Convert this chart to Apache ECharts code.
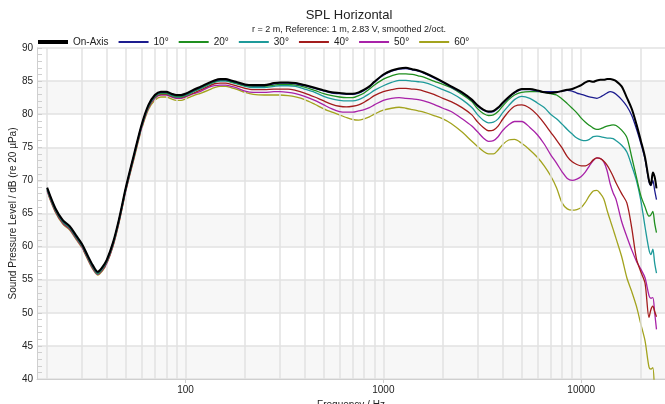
<!DOCTYPE html>
<html>
<head>
<meta charset="utf-8">
<script src="https://cdn.jsdelivr.net/npm/echarts@6/dist/echarts.min.js"></script>
<style>
html,body{margin:0;padding:0;background:#fff;}
#chart{width:665px;height:404px;}
</style>
</head>
<body>
<div id="chart"></div>
<script>
// ---- data ----
const freqs = [20,22,24,26,28,30,32,34,36,38,40,
  43,46,50,55,60,65,70,75,80,85,90,95,100,
  110,120,130,140,150,160,170,180,
  200,220,250,280,300,330,360,400,450,500,550,600,650,700,750,800,850,900,
  1000,1100,1200,1300,1400,1500,1600,1800,
  2000,2200,2500,2800,3000,3200,3400,3600,3800,
  4000,4300,4600,
  5000,5500,6000,6500,7000,7500,8000,8500,9000,9500,
  10000,10500,11000,11500,12000,12500,13000,13500,14000,14500,
  15000,16000,17000,18000,19000,20000,21000,22000,22500,23000,23500,24000];

const onAxis = [68.9,65.8,64.0,63.1,61.7,60.4,58.7,57.2,56.2,56.9,58.0,
  60.6,64.0,69.0,74.0,78.4,81.4,82.9,83.4,83.4,83.1,82.9,82.9,83.1,
  83.7,84.2,84.7,85.1,85.3,85.3,85.1,84.9,
  84.5,84.4,84.4,84.7,84.8,84.8,84.7,84.4,84.0,83.6,83.3,83.2,83.1,83.1,83.3,83.7,84.2,84.9,
  86.0,86.6,86.9,87.0,86.8,86.6,86.3,85.6,
  84.9,84.2,83.3,82.2,81.3,80.7,80.4,80.5,81.0,
  81.7,82.6,83.3,
  83.8,83.8,83.6,83.3,83.2,83.3,83.5,83.7,83.8,84.1,
  84.4,84.8,85.0,84.9,85.1,85.2,85.2,85.3,85.3,85.2,
  85.0,84.2,82.5,80.8,78.5,76.0,73.5,70.0,69.3,71.2,70.5,68.8];

const deg10 = [68.8,65.7,63.9,63.0,61.6,60.3,58.6,57.1,56.1,56.8,57.9,
  60.5,63.9,68.9,73.9,78.3,81.3,82.8,83.3,83.3,83.0,82.8,82.8,83.0,
  83.6,84.1,84.6,85.0,85.2,85.2,85.0,84.8,
  84.4,84.3,84.3,84.6,84.7,84.7,84.6,84.3,83.9,83.5,83.2,83.1,83.0,83.0,83.2,83.6,84.1,84.8,
  85.9,86.5,86.8,86.9,86.7,86.5,86.2,85.5,
  84.8,84.1,83.2,82.1,81.2,80.6,80.3,80.4,80.9,
  81.6,82.5,83.2,
  83.7,83.7,83.5,83.4,83.4,83.4,83.5,83.6,83.5,83.2,
  83.0,82.8,82.6,82.5,82.4,82.6,82.9,83.2,83.4,83.3,
  83.0,82.2,81.2,79.8,77.8,75.6,73.2,69.8,69.2,70.0,68.5,67.1];

const deg20 = [68.7,65.6,63.8,62.9,61.5,60.2,58.5,57.0,56.0,56.7,57.8,
  60.4,63.8,68.8,73.8,78.2,81.2,82.7,83.2,83.2,82.9,82.7,82.7,82.9,
  83.5,84.0,84.5,84.9,85.1,85.1,84.9,84.7,
  84.3,84.2,84.2,84.4,84.5,84.5,84.4,84.1,83.6,83.1,82.8,82.6,82.5,82.5,82.8,83.2,83.8,84.4,
  85.3,85.8,86.1,86.1,86.0,85.8,85.6,85.0,
  84.5,84.0,83.0,81.9,80.8,80.1,79.8,79.9,80.4,
  81.2,82.2,82.9,
  83.3,83.4,83.4,83.3,83.1,82.9,82.3,81.6,80.9,80.2,
  79.4,78.8,78.3,77.9,77.7,77.8,78.0,78.2,78.3,78.4,
  78.3,77.6,76.5,73.5,70.5,67.7,66.0,64.6,64.8,65.3,63.5,62.1];

const deg30 = [68.6,65.5,63.7,62.8,61.4,60.1,58.4,56.9,55.9,56.6,57.7,
  60.3,63.7,68.7,73.7,78.1,81.1,82.6,83.1,83.1,82.8,82.6,82.6,82.8,
  83.4,83.9,84.4,84.8,85.0,85.0,84.8,84.6,
  84.2,84.0,84.0,84.2,84.3,84.3,84.2,83.8,83.3,82.7,82.3,82.1,82.0,82.0,82.2,82.6,83.1,83.6,
  84.3,84.8,85.1,85.1,85.0,84.9,84.8,84.3,
  83.7,83.2,82.2,81.0,79.9,79.1,78.7,78.8,79.3,
  80.2,81.3,82.2,
  82.7,82.4,81.7,81.0,80.0,79.3,78.5,77.7,77.0,76.4,
  76.1,76.0,76.2,76.6,76.7,76.6,76.5,76.4,76.4,76.3,
  76.0,75.3,74.3,72.2,70.0,67.0,63.0,59.5,58.8,59.6,57.5,56.0];

const deg40 = [68.5,65.4,63.6,62.7,61.3,60.0,58.3,56.8,55.9,56.5,57.6,
  60.2,63.6,68.6,73.6,78.0,81.0,82.5,83.0,83.0,82.7,82.5,82.5,82.7,
  83.2,83.7,84.2,84.6,84.7,84.7,84.5,84.3,
  83.9,83.7,83.7,83.8,83.8,83.8,83.6,83.2,82.6,82.0,81.5,81.2,81.1,81.2,81.4,81.8,82.3,82.8,
  83.4,83.7,83.9,83.9,83.8,83.7,83.5,83.0,
  82.4,81.9,81.0,79.9,78.8,78.0,77.5,77.6,78.2,
  79.2,80.4,81.2,
  81.4,80.9,79.9,78.6,77.3,76.1,74.9,73.6,72.8,72.4,
  72.2,72.2,72.5,73.1,73.4,73.3,72.9,72.3,71.5,70.6,
  69.6,68.0,66.6,62.8,58.2,56.2,54.5,49.3,50.5,51.0,50.2,49.4];

const deg50 = [68.4,65.3,63.5,62.6,61.2,59.9,58.2,56.7,55.8,56.4,57.5,
  60.1,63.5,68.5,73.5,77.9,80.9,82.4,82.9,82.9,82.6,82.4,82.4,82.6,
  83.1,83.5,84.0,84.3,84.4,84.4,84.2,84.0,
  83.5,83.3,83.3,83.4,83.4,83.3,83.1,82.7,82.1,81.4,80.8,80.4,80.3,80.3,80.5,80.7,81.0,81.4,
  82.1,82.4,82.5,82.4,82.3,82.2,82.0,81.5,
  80.9,80.4,79.3,78.2,77.3,76.4,75.9,76.0,76.6,
  77.5,78.4,78.9,
  78.9,78.0,76.9,75.5,73.9,72.6,71.3,70.3,70.0,70.2,
  70.6,71.3,72.2,73.0,73.4,73.3,72.8,71.5,69.5,68.1,
  67.1,63.8,61.5,59.5,57.8,56.6,55.3,52.6,52.2,52.3,50.0,47.5];

const deg60 = [68.3,65.2,63.4,62.5,61.1,59.8,58.1,56.6,55.7,56.3,57.4,
  60.0,63.4,68.4,73.3,77.7,80.7,82.1,82.6,82.6,82.3,82.1,82.1,82.3,
  82.8,83.2,83.6,84.0,84.2,84.2,84.0,83.8,
  83.3,83.0,82.9,82.9,82.9,82.8,82.6,82.2,81.5,80.8,80.3,79.9,79.5,79.2,79.1,79.3,79.6,80.0,
  80.6,80.9,81.05,80.9,80.7,80.5,80.3,79.8,
  79.3,78.6,77.3,75.9,75.1,74.4,74.0,74.0,74.6,
  75.4,76.1,76.2,
  75.6,74.6,73.5,72.2,70.7,68.9,66.6,65.7,65.5,65.6,
  65.9,66.7,67.7,68.4,68.5,68.0,67.2,65.5,64.0,62.6,
  61.2,58.5,55.3,53.2,51.0,48.3,45.8,41.8,41.5,41.7,38.0,35.0];

const seriesNames = ['On-Axis','10°','20°','30°','40°','50°','60°'];
const seriesValues = [onAxis, deg10, deg20, deg30, deg40, deg50, deg60];
const gridFreqs = [20,30,40,50,60,70,80,90,100,200,300,400,500,600,700,800,900,
  1000,2000,3000,4000,5000,6000,7000,8000,9000,10000,20000];
const yTicks = [40,45,50,55,60,65,70,75,80,85,90];

// ---- styles ----
const colors = ['#000000','#1c1c8f','#1f8f1f','#1e9a9a','#a31c1c','#a822a8','#a3a31e'];
const widths = [2,1.3,1.3,1.3,1.3,1.3,1.3];
const FONT = '"Liberation Sans", Arial, sans-serif';

const chart = echarts.init(document.getElementById('chart'), null, {renderer:'canvas'});

const series = [];
series.push({
  name: '_grid', type: 'line', data: [], z: 1, silent: true,
  markLine: {
    silent: true, symbol: 'none', animation: false,
    label: {show: false},
    lineStyle: {color: '#e2e2e2', width: 1.5, type: 'solid'},
    emphasis: {disabled: true},
    data: gridFreqs.map(f => ({xAxis: f}))
  }
});
for (let i = seriesNames.length - 1; i >= 0; i--) {
  series.push({
    name: seriesNames[i],
    type: 'line',
    data: freqs.map((f, k) => [f, seriesValues[i][k]]),
    showSymbol: false,
    symbol: 'none',
    smooth: 0.3,
    clip: true,
    z: 3 + (seriesNames.length - i),
    lineStyle: {color: colors[i], width: widths[i]},
    itemStyle: {color: colors[i]},
    animation: false
  });
}

chart.setOption({
  backgroundColor: '#ffffff',
  animation: false,
  graphic: [
    {type: 'text', x: 349, y: 9, style: {text: 'SPL Horizontal', fill: '#222', font: '13px ' + FONT, textAlign: 'center'}},
    {type: 'text', x: 349, y: 25, style: {text: 'r = 2 m, Reference: 1 m, 2.83 V, smoothed 2/oct.', fill: '#222', font: '9px ' + FONT, textAlign: 'center'}},
    {type: 'text', x: 618, y: 55, style: {text: 'KLIPPEL', fill: '#5d9ac6', font: '9px ' + FONT}}
  ],
  legend: {
    top: 37, left: 38, padding: 0,
    itemWidth: 30, itemHeight: 8, itemGap: 10,
    textStyle: {fontSize: 10, color: '#222', fontFamily: FONT},
    data: seriesNames.map((n, i) => ({name: n, icon: 'path://M0,0L30,0L30,' + (i === 0 ? 4 : 2) + 'L0,' + (i === 0 ? 4 : 2) + 'Z'})),
    selectedMode: false
  },
  grid: {left: 37, right: 0, top: 48, bottom: 25, containLabel: false, outerBoundsMode: 'none'},
  xAxis: {
    type: 'log', logBase: 10, min: 17.77, max: 26500,
    name: 'Frequency / Hz', nameLocation: 'middle', nameGap: 19,
    nameTextStyle: {fontSize: 10, color: '#222', fontFamily: FONT},
    axisLine: {show: true, lineStyle: {color: '#cfcfcf', width: 1}},
    axisTick: {show: true, length: 4, lineStyle: {color: '#cfcfcf'}},
    axisLabel: {fontSize: 10, color: '#222', margin: 6, fontFamily: FONT,
      showMinLabel: false, showMaxLabel: false,
      formatter: v => String(Math.round(v))},
    splitLine: {show: false},
    minorTick: {show: false}, minorSplitLine: {show: false}
  },
  yAxis: {
    type: 'value', min: yTicks[0], max: yTicks[yTicks.length - 1], interval: 5,
    name: 'Sound Pressure Level / dB (re 20 µPa)', nameLocation: 'middle', nameGap: 19,
    nameMoveOverlap: false,
    nameTextStyle: {fontSize: 10, color: '#222', fontFamily: FONT},
    axisLine: {show: true, lineStyle: {color: '#cfcfcf', width: 1}},
    axisTick: {show: true, inside: true, length: 5, lineStyle: {color: '#cfcfcf'}},
    minorTick: {show: true, splitNumber: 5, length: 5, lineStyle: {color: '#cfcfcf'}},
    axisLabel: {fontSize: 10, color: '#222', margin: 4, fontFamily: FONT},
    splitLine: {show: true, lineStyle: {color: '#e2e2e2', width: 1.5}},
    splitArea: {show: true, areaStyle: {color: ['#f7f7f7', '#ffffff']}}
  },
  series: series
});
</script>
</body>
</html>
